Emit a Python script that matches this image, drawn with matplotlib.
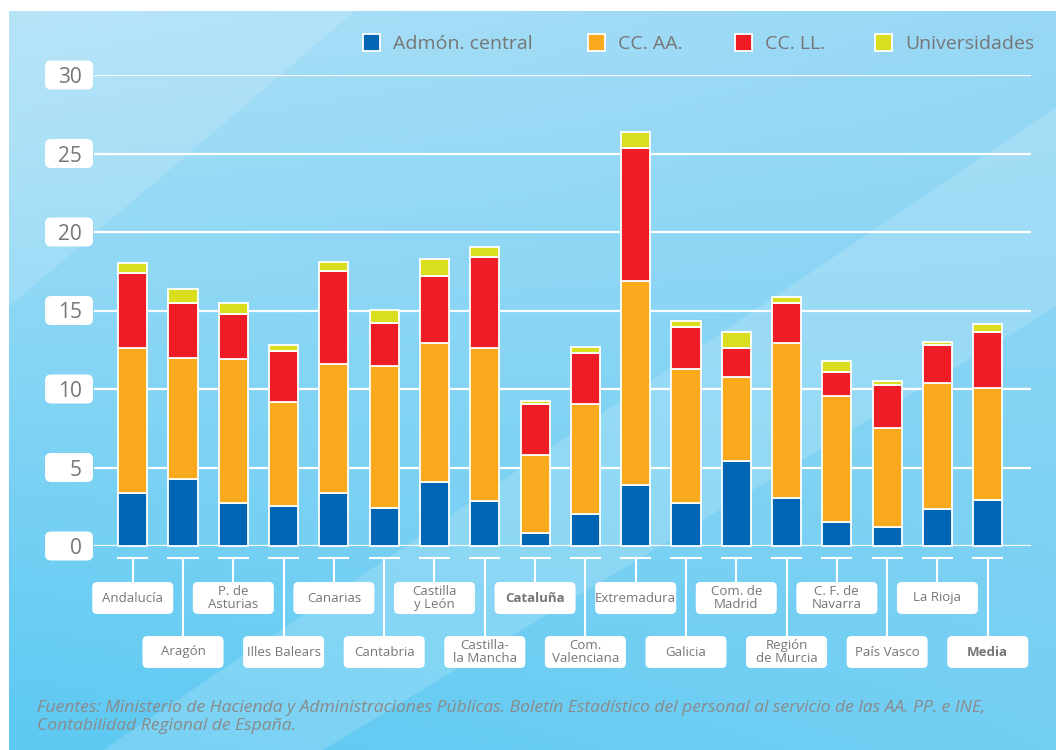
import numpy as np
import matplotlib.pyplot as plt
from matplotlib.patches import FancyBboxPatch, Polygon, Rectangle
from matplotlib.lines import Line2D
from matplotlib.transforms import IdentityTransform

plt.rcParams['font.family'] = ['Open Sans', 'DejaVu Sans']

# datos
regiones = ['Andalucía', 'Aragón', 'P. de\nAsturias', 'Illes Balears', 'Canarias',
            'Cantabria', 'Castilla\ny León', 'Castilla-\nla Mancha', 'Cataluña',
            'Com.\nValenciana', 'Extremadura', 'Galicia', 'Com. de\nMadrid',
            'Región\nde Murcia', 'C. F. de\nNavarra', 'País Vasco', 'La Rioja', 'Media']
admon_central = [3.40, 4.27, 2.76, 2.55, 3.40, 2.40, 4.10, 2.89, 0.85,
                 2.04, 3.90, 2.76, 5.43, 3.08, 1.53, 1.19, 2.38, 2.91]
cc_aa = [9.20, 7.73, 9.14, 6.64, 8.20, 9.06, 8.85, 9.71, 4.97,
         7.00, 12.96, 8.51, 5.31, 9.87, 8.02, 6.33, 8.02, 7.15]
cc_ll = [4.80, 3.50, 2.90, 3.25, 5.90, 2.72, 4.25, 5.79, 3.22,
         3.26, 8.47, 2.70, 1.86, 2.55, 1.53, 2.72, 2.40, 3.59]
universidades = [0.65, 0.85, 0.70, 0.34, 0.57, 0.85, 1.06, 0.67, 0.21,
                 0.36, 1.04, 0.36, 1.05, 0.34, 0.70, 0.25, 0.21, 0.49]
series = ['Admón. central', 'CC. AA.', 'CC. LL.', 'Universidades']
colores = ['#0066b3', '#f9a91c', '#ee1c25', '#d9df1f']
y_ticks = [0, 5, 10, 15, 20, 25, 30]
negrita = ['Cataluña', 'Media']
fuente = ('Fuentes: Ministerio de Hacienda y Administraciones Públicas. Boletín Estadístico '
          'del personal al servicio de las AA. PP. e INE,\nContabilidad Regional de España.')

W, H = 1056, 750
gris = '#767676'
fig = plt.figure(figsize=(W / 100, H / 100), dpi=100)
fig.patch.set_facecolor('white')
px = IdentityTransform()

# fondo azul degradado
bg = fig.add_axes([9 / W, 0, 1 - 9 / W, 1 - 11 / H])
bg.axis('off')
t = np.linspace(0, 1, 200)
gx, gy = np.meshgrid(t, t)
c_tl = np.array([172, 224, 247]) / 255
c_tr = np.array([152, 216, 245]) / 255
c_bl = np.array([92, 201, 242]) / 255
c_br = np.array([115, 207, 243]) / 255
img = (c_bl * ((1 - gx) * (1 - gy))[..., None] + c_br * (gx * (1 - gy))[..., None]
       + c_tl * ((1 - gx) * gy)[..., None] + c_tr * (gx * gy)[..., None])
bg.imshow(img, origin='lower', extent=[0, 1, 0, 1], aspect='auto')
bg.add_patch(Polygon([(0, 0.6), (0, 1), (0.33, 1)], closed=True, fc='white', alpha=0.15, lw=0))
bg.add_patch(Polygon([(0.09, 0), (0.3, 0), (1, 0.6), (1, 0.87)], closed=True,
                     fc='white', alpha=0.16, lw=0))
bg.set_xlim(0, 1)
bg.set_ylim(0, 1)

# grafico principal
ax = fig.add_axes([94 / W, 204 / H, 937 / W, 471 / H])
ax.patch.set_alpha(0)
x = np.arange(len(regiones))
ancho = 0.58
base = np.zeros(len(regiones))
for nombre, vals, col in zip(series, [admon_central, cc_aa, cc_ll, universidades], colores):
    ax.bar(x, vals, ancho, bottom=base, color=col, edgecolor='white', linewidth=1.3,
           zorder=3, label=nombre, clip_on=False)
    base = base + np.array(vals)
for v in y_ticks:
    ax.axhline(v, color='white', lw=1.6, zorder=1)
ax.set_xlim(-0.77, 17.86)
ax.set_ylim(0, 30)
ax.set_xticks([])
ax.set_yticks([])
for s in ax.spines.values():
    s.set_visible(False)

fig.canvas.draw()

# etiquetas del eje y
for v in y_ticks:
    _, py = ax.transData.transform((0, v))
    fig.add_artist(FancyBboxPatch((45, py - 14.5), 48, 29, boxstyle='round,pad=0,rounding_size=6',
                                  fc='white', ec='none', transform=px))
    fig.text(82, py, str(v), transform=px, ha='right', va='center_baseline',
             fontsize=15, color=gris)

# etiquetas del eje x
x0, y0 = ax.transData.transform((0, 0))
x1, _ = ax.transData.transform((ancho / 2, 0))
medio = x1 - x0
for i, nombre in enumerate(regiones):
    cx, _ = ax.transData.transform((i, 0))
    ylin = y0 - 12
    fila_top = 168 if i % 2 == 0 else 114
    fig.add_artist(Line2D([cx - medio, cx + medio], [ylin, ylin], color='white', lw=1.5, transform=px))
    fig.add_artist(Line2D([cx, cx], [ylin, fila_top], color='white', lw=1.5, transform=px))
    fig.add_artist(FancyBboxPatch((cx - 40.5, fila_top - 32), 81, 32,
                                  boxstyle='round,pad=0,rounding_size=5',
                                  fc='white', ec='none', transform=px))
    fig.text(cx, fila_top - 16, nombre, transform=px, ha='center', va='center',
             fontsize=9.5, color=gris, linespacing=1.0,
             fontweight='bold' if nombre in negrita else 'normal')

# leyenda
ley_x = [363, 588, 735, 875]
for lx, nombre, col in zip(ley_x, series, colores):
    fig.add_artist(Rectangle((lx, 699), 17, 17, fc=col, ec='white', lw=1.3, transform=px))
    fig.text(lx + 30, 708, nombre, transform=px, ha='left', va='center_baseline',
             fontsize=14, color=gris)

# fuente
fig.text(37, 33, fuente, transform=px, ha='left', va='center', fontsize=12.6,
         style='italic', color='#8a8a8a', linespacing=1.2)

fig.savefig('out.png', dpi=100)
